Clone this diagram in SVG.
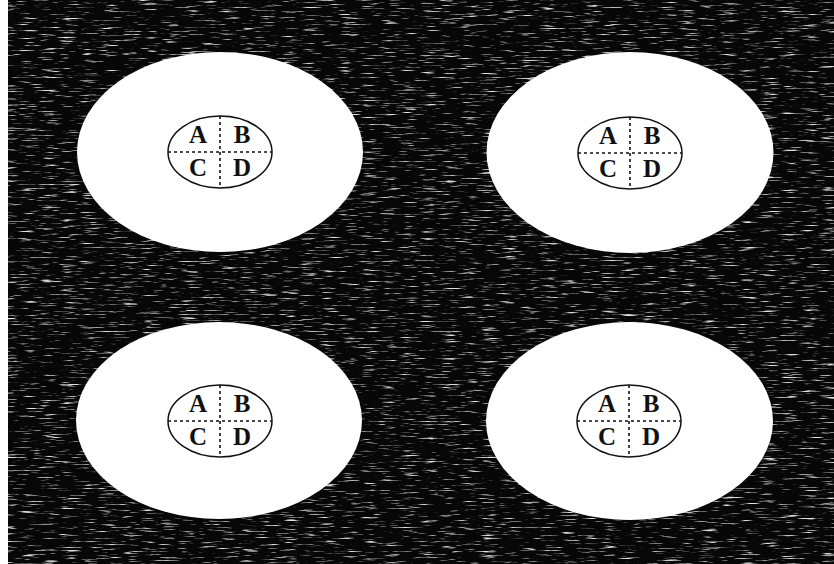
<svg xmlns="http://www.w3.org/2000/svg" width="834" height="564" viewBox="0 0 834 564">
  <style>
    .disc { fill: #ffffff; }
    .ring { fill: #ffffff; stroke: #111; stroke-width: 1.5; }
    .cross { stroke: #111; stroke-width: 1.6; stroke-dasharray: 3 3; fill: none; }
    .lbl { font-family: "Liberation Serif", "Times New Roman", serif; font-size: 25px; font-weight: 700; fill: #111; text-anchor: middle; }
  </style>
  <defs>
    <filter id="grain" x="0" y="0" width="100%" height="100%">
      <feTurbulence type="fractalNoise" baseFrequency="0.05 0.7" numOctaves="3" seed="7" result="n"/>
      <feColorMatrix in="n" type="matrix" values="0 0 0 0 0.75  0 0 0 0 0.75  0 0 0 0 0.75  4.2 0 0 0 -2.45"/>
    </filter>
    <g id="quad">
      <ellipse class="ring" cx="0" cy="0" rx="52" ry="36"/>
      <line class="cross" x1="0" y1="-36" x2="0" y2="36"/>
      <line class="cross" x1="-52" y1="0" x2="52" y2="0"/>
      <text class="lbl" x="-22" y="-9">A</text>
      <text class="lbl" x="22" y="-9">B</text>
      <text class="lbl" x="-22" y="24">C</text>
      <text class="lbl" x="22" y="24">D</text>
    </g>
  </defs>
  <rect x="0" y="0" width="834" height="564" fill="#ffffff"/>
  <rect x="8" y="0" width="826" height="564" fill="#070707"/>
  <rect x="8" y="0" width="826" height="564" filter="url(#grain)"/>

  <g id="node-top-left">
    <ellipse class="disc" cx="220" cy="152" rx="143" ry="100"/>
    <use href="#quad" x="220" y="152"/>
  </g>
  <g id="node-top-right">
    <ellipse class="disc" cx="630" cy="152.5" rx="143.5" ry="100.5"/>
    <use href="#quad" x="630" y="153"/>
  </g>
  <g id="node-bottom-left">
    <ellipse class="disc" cx="219" cy="420.5" rx="143" ry="98.5"/>
    <use href="#quad" x="220" y="421"/>
  </g>
  <g id="node-bottom-right">
    <ellipse class="disc" cx="629.5" cy="421" rx="143.5" ry="99"/>
    <use href="#quad" x="629" y="421"/>
  </g>
  <g id="connectors"/>
</svg>
